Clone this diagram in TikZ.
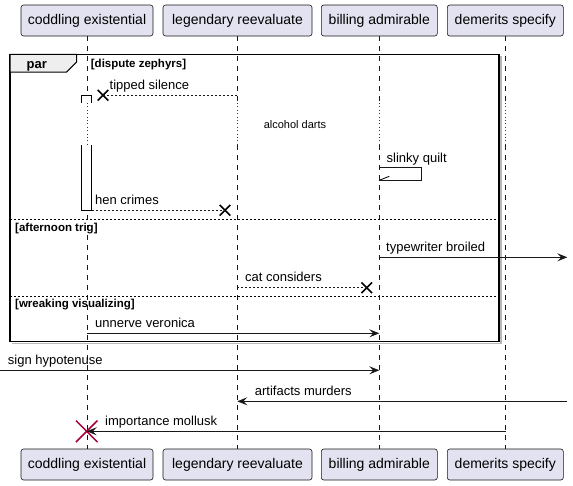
\documentclass[tikz,border=0pt]{standalone}
\usepackage{fontspec}
\setmainfont{Liberation Sans}
\usetikzlibrary{arrows.meta,shapes.misc}
\definecolor{partfill}{HTML}{E2E2F0}
\definecolor{partline}{HTML}{181818}
\definecolor{delayred}{HTML}{A80036}
\definecolor{tabfill}{HTML}{EEEEEE}
\begin{document}
\begin{tikzpicture}[x=1pt,y=-1pt,
  part/.style={draw=partline, line width=0.6pt, fill=partfill, rounded corners=2.5pt, minimum height=31pt, inner sep=0pt, font=\fontsize{14}{16}\selectfont},
  lifeline/.style={draw=partline, line width=0.5pt, dash pattern=on 5pt off 5pt},
  delayline/.style={draw=delayred, line width=0.7pt, dash pattern=on 0.8pt off 2.6pt},
  msg/.style={draw=partline, line width=1pt, -{Stealth[length=10pt,width=8pt,inset=4pt]}},
  ret/.style={draw=partline, line width=0.9pt, dash pattern=on 2pt off 2pt},
  divider/.style={draw=black, line width=0.8pt, dash pattern=on 2pt off 2pt},
  lbl/.style={anchor=base west, inner sep=0pt, font=\fontsize{13}{15}\selectfont},
  guard/.style={anchor=base west, inner sep=0pt, font=\bfseries\fontsize{11.5}{13}\selectfont},
  xmark/.style={cross out, draw=black, line width=1.6pt, minimum size=9pt, inner sep=0pt},
  destroy/.style={cross out, draw=delayred, line width=1.5pt, minimum size=20pt, inner sep=0pt}
]
\useasboundingbox (0,0) rectangle (573,485);
% participants
\node[part, minimum width=132pt] (A) at (87,20.5) {coddling existential};
\node[part, minimum width=149pt] (B) at (237.5,20.5) {legendary reevaluate};
\node[part, minimum width=116pt] (C) at (379.3,20.5) {billing admirable};
\node[part, minimum width=116pt] (D) at (505.3,20.5) {demerits specify};
\node[part, minimum width=132pt] (A2) at (87,464.5) {coddling existential};
\node[part, minimum width=149pt] (B2) at (237.5,464.5) {legendary reevaluate};
\node[part, minimum width=116pt] (C2) at (379.3,464.5) {billing admirable};
\node[part, minimum width=116pt] (D2) at (505.3,464.5) {demerits specify};
% lifelines with delay
\coordinate (dtop) at (0,103);
\coordinate (dbot) at (0,145);
\foreach \p in {A,B,C,D}{
  \draw[lifeline] (\p.south) -- (\p.south |- dtop);
  \draw[delayline] (\p.south |- dtop) -- (\p.south |- dbot);
  \draw[lifeline] (\p.south |- dbot) -- (\p2.north);
}
% group frame
\draw[gray!55, line width=1.5pt] (12,343.5) -- (501,343.5) -- (501,56);
\draw[black, line width=1.5pt] (10,54.3) rectangle (499,341.7);
\draw[black, line width=1pt, fill=tabfill] (10,54.3) -- (76.7,54.3) -- (76.7,62) -- (66.7,72) -- (10,72) -- cycle;
\node[anchor=base west, inner sep=0pt, font=\bfseries\fontsize{13}{15}\selectfont] (par) at (26.5,68.3) {par};
\node[guard] (g1) at (90.7,67.5) {[dispute zephyrs]};
\draw[divider] (10,219.3) -- (499,219.3);
\node[guard] (g2) at (15,231) {[afternoon trig]};
\draw[divider] (10,296.3) -- (499,296.3);
\node[guard] (g3) at (15,307.3) {[wreaking visualizing]};
% activation
\fill[white] (81.7,95.3) rectangle (91.7,103);
\draw[black, line width=0.8pt] (81.7,103) -- (81.7,95.3) -- (91.7,95.3) -- (91.7,103);
\fill[white] (81.7,145) rectangle (91.7,210.3);
\draw[black, line width=0.8pt] (81.7,145) -- (81.7,210.3) -- (91.7,210.3) -- (91.7,145);
% tipped silence
\coordinate (m1s) at (237.3,95.3);
\node[xmark] (x1) at (103,95.3) {};
\draw[ret] (m1s) -- (x1.center);
\node[lbl] (l1) at (109.5,89.5) {tipped silence};
% delay
\node[inner sep=0pt, font=\fontsize{11}{13}\selectfont] (delay) at (295,125) {alcohol darts};
% slinky quilt
\coordinate (s1) at (379.3,167.3);
\coordinate (s2) at (379.3,180.3);
\draw[partline, line width=1pt] (s1) -- (421.7,167.3) -- (421.7,180.3) -- (s2);
\draw[partline, line width=0.9pt] (s2) -- ++(10,-4);
\node[lbl] (l2) at (386.5,162.3) {slinky quilt};
% hen crimes
\coordinate (h1) at (91.7,210.3);
\node[xmark] (x2) at (225,210.3) {};
\draw[ret] (h1) -- (x2.center);
\node[lbl] (l3) at (95,204.5) {hen crimes};
% typewriter broiled
\coordinate (t1) at (379.3,257.3);
\coordinate (t2) at (567.3,257.3);
\draw[msg] (t1) -- (t2);
\node[lbl] (l4) at (386,251.3) {typewriter broiled};
% cat considers
\coordinate (c1) at (237.3,287.7);
\node[xmark] (x3) at (366.7,287.7) {};
\draw[ret] (c1) -- (x3.center);
\node[lbl] (l5) at (245,281.7) {cat considers};
% unnerve veronica
\coordinate (u1) at (86.7,333.3);
\coordinate (u2) at (379.3,333.3);
\draw[msg] (u1) -- (u2);
\node[lbl] (l6) at (95,327.3) {unnerve veronica};
% sign hypotenuse
\coordinate (h2) at (0,370.3);
\coordinate (h3) at (379.3,370.3);
\draw[msg] (h2) -- (h3);
\node[lbl] (l7) at (7.7,364.3) {sign hypotenuse};
% artifacts murders
\coordinate (a1) at (567.3,401.3);
\coordinate (a2) at (237.3,401.3);
\draw[msg] (a1) -- (a2);
\node[lbl] (l8) at (254.7,395.3) {artifacts murders};
% importance mollusk
\coordinate (i1) at (505.7,431.3);
\node[destroy] (xd) at (86.7,431.3) {};
\draw[msg] (i1) -- (xd.center);
\node[lbl] (l9) at (105,425.3) {importance mollusk};
\end{tikzpicture}
\end{document}
